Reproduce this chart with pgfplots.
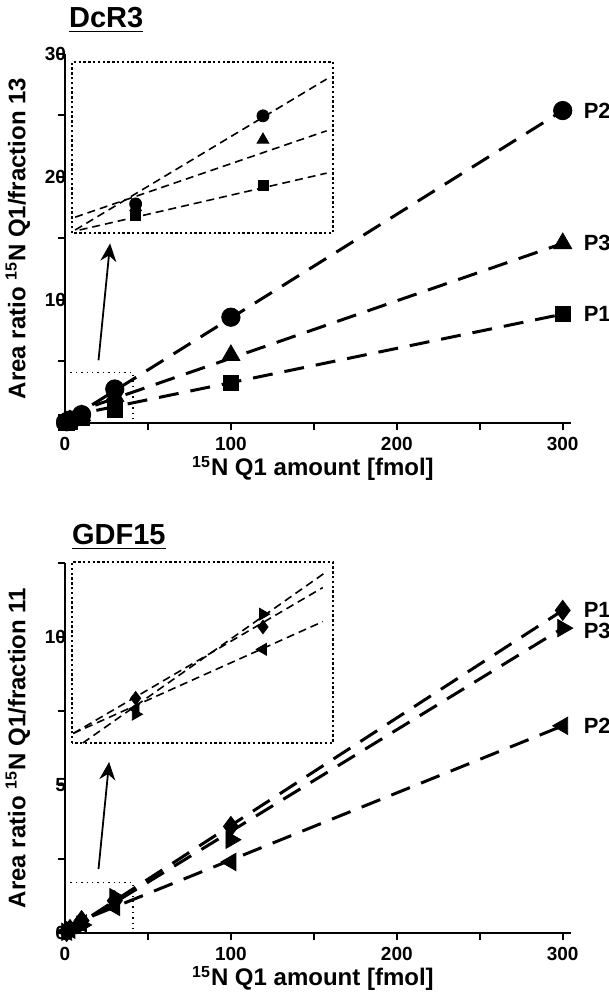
\documentclass[border=0pt]{standalone}
\usepackage{fontspec}
\setmainfont{Liberation Sans}
\usepackage{pgfplots}
\pgfplotsset{compat=1.18}
\usetikzlibrary{arrows.meta}

\pgfplotsset{
  mainax/.style={
    scale only axis, width=253pt,
    xmin=0, xmax=305, ymin=0,
    axis lines*=left,
    axis line style={line width=1.3pt},
    tick align=outside, major tick length=3.5pt, minor tick length=3.5pt,
    tick style={line width=1pt, black},
    xtick={0,100,200,300}, minor xtick={50,150,250},
    /pgf/number format/assume math mode=true,
    tick label style={font=\fontsize{9.5}{9.5}\selectfont\bfseries},
    yticklabel style={xshift=7.5pt},
    label style={font=\fontsize{12}{12}\selectfont\bfseries},
    xlabel style={at={(axis description cs:0.49,0)}, anchor=north, yshift=-13pt},
    ylabel style={at={(axis description cs:-0.055,0.5)}, anchor=south, rotate=0},
    clip=false,
  },
  insetax/.style={
    scale only axis, width=130.5pt,
    xmin=0, xmax=41, ymin=0,
    xtick=\empty, ytick=\empty,
    axis line style={line width=1.2pt, dash pattern=on 1.2pt off 1.2pt},
    clip=false,
  },
  fit/.style={black, line width=1.5pt, dash pattern=on 10pt off 6pt},
  fitin/.style={black, line width=0.8pt, dash pattern=on 4pt off 2.5pt},
  pts/.style={only marks, black, mark options={solid, fill=black}},
}
\tikzset{
  plab/.style={anchor=west, xshift=7pt, font=\fontsize{11}{11}\selectfont\bfseries},
  smallbox/.style={line width=0.7pt, dotted},
  zoomarrow/.style={line width=0.9pt, -{Stealth[length=9pt,width=8pt]}},
}

\begin{document}
\begin{tikzpicture}
\path[use as bounding box] (0pt,0pt) rectangle (304.5pt,497pt);

% ---------- DcR3 ----------
\node[anchor=west, font=\fontsize{14.5}{14.5}\selectfont\bfseries] at (31pt,487pt) {\underline{DcR3}};

\begin{axis}[mainax, at={(32.5pt,285.5pt)}, anchor=south west, height=184.5pt,
  ymax=30, ytick={0,10,20,30}, minor ytick={5,15,25},
  xlabel={\textsuperscript{15}N Q1 amount [fmol]},
  ylabel={Area ratio \textsuperscript{15}N Q1/fraction 13}]
\addplot[fit] coordinates {(0,0.1) (300,25.4)};
\addplot[fit] coordinates {(0,0.6) (300,14.6)};
\addplot[fit] coordinates {(0,0.5) (300,8.85)};
% P2
\addplot[pts, mark=*, mark size=4.6pt] coordinates {(1,0.1) (3,0.25) (10,0.68) (30,2.76) (100,8.6) (300,25.4)};
% P3
\addplot[pts, mark=triangle*, mark size=5.2pt] coordinates {(1,0.08) (3,0.2) (10,0.6) (30,2.18) (100,5.5) (300,14.6)};
% P1
\addplot[pts, mark=square*, mark size=3.9pt] coordinates {(1,0.05) (3,0.12) (10,0.4) (30,1.12) (100,3.25) (300,8.86)};
\node[plab] at (axis cs:300,25.4) {P2};
\node[plab] at (axis cs:300,14.6) {P3};
\node[plab] at (axis cs:300,8.86) {P1};
\draw[smallbox] (axis cs:0,4.1) -| (axis cs:41,0);
\draw[zoomarrow] (axis cs:20.2,5.1) -- (axis cs:27.2,14.6);
\end{axis}

\begin{axis}[insetax, at={(36pt,380.5pt)}, anchor=south west, height=85.5pt, ymax=4]
\addplot[fitin] coordinates {(0.5,0.07) (40,3.6)};
\addplot[fitin] coordinates {(0.5,0.37) (40,2.39)};
\addplot[fitin] coordinates {(1.2,0.07) (40,1.4)};
\addplot[pts, mark=*, mark size=3pt] coordinates {(10,0.68) (30,2.74)};
\addplot[pts, mark=triangle*, mark size=3.4pt] coordinates {(10,0.6) (30,2.18)};
\addplot[pts, mark=square*, mark size=2.5pt] coordinates {(10,0.4) (30,1.12)};
\end{axis}

% ---------- GDF15 ----------
\node[anchor=west, font=\fontsize{14.5}{14.5}\selectfont\bfseries] at (32.5pt,228.5pt) {\underline{GDF15}};

\begin{axis}[mainax, at={(32.5pt,30.5pt)}, anchor=south west, height=185pt,
  ymax=12.5, ytick={0,5,10}, minor ytick={2.5,7.5,12.5},
  xlabel={\textsuperscript{15}N Q1 amount [fmol]},
  ylabel={Area ratio \textsuperscript{15}N Q1/fraction 11}]
\addplot[fit] coordinates {(0,0) (300,10.9)};
\addplot[fit] coordinates {(0,0) (300,10.3)};
\addplot[fit] coordinates {(0,0.2) (300,7.0)};
% P1
\addplot[pts, mark=diamond*, mark size=5pt] coordinates {(1,0.05) (3,0.12) (10,0.42) (30,1.09) (100,3.6) (300,10.9)};
% P3
\addplot[pts, mark=triangle*, mark size=5pt, mark options={rotate=-90}] coordinates {(1,0.04) (3,0.1) (10,0.27) (30,1.21) (100,3.15) (300,10.3)};
% P2
\addplot[pts, mark=triangle*, mark size=5pt, mark options={rotate=90}] coordinates {(1,0.05) (3,0.11) (10,0.32) (30,0.88) (100,2.4) (300,7.0)};
\node[plab] at (axis cs:300,10.9) {P1};
\node[plab] at (axis cs:300,10.2) {P3};
\node[plab] at (axis cs:300,7.0) {P2};
\draw[smallbox] (axis cs:0,1.7) -| (axis cs:41,0);
\draw[zoomarrow] (axis cs:20.2,2.16) -- (axis cs:26.6,5.78);
\end{axis}

\begin{axis}[insetax, at={(36pt,125.5pt)}, anchor=south west, height=90.5pt, ymax=1.7]
\addplot[fitin] coordinates {(1.7,0) (40,1.61)};
\addplot[fitin] coordinates {(0.2,0.09) (39.4,1.46)};
\addplot[fitin] coordinates {(0.2,0.09) (39.4,1.14)};
\addplot[pts, mark=diamond*, mark size=3.4pt] coordinates {(10,0.42) (30,1.09)};
\addplot[pts, mark=triangle*, mark size=3.4pt, mark options={rotate=-90}] coordinates {(10,0.27) (30,1.21)};
\addplot[pts, mark=triangle*, mark size=3.4pt, mark options={rotate=90}] coordinates {(10,0.32) (30,0.88)};
\end{axis}
\end{tikzpicture}
\end{document}
